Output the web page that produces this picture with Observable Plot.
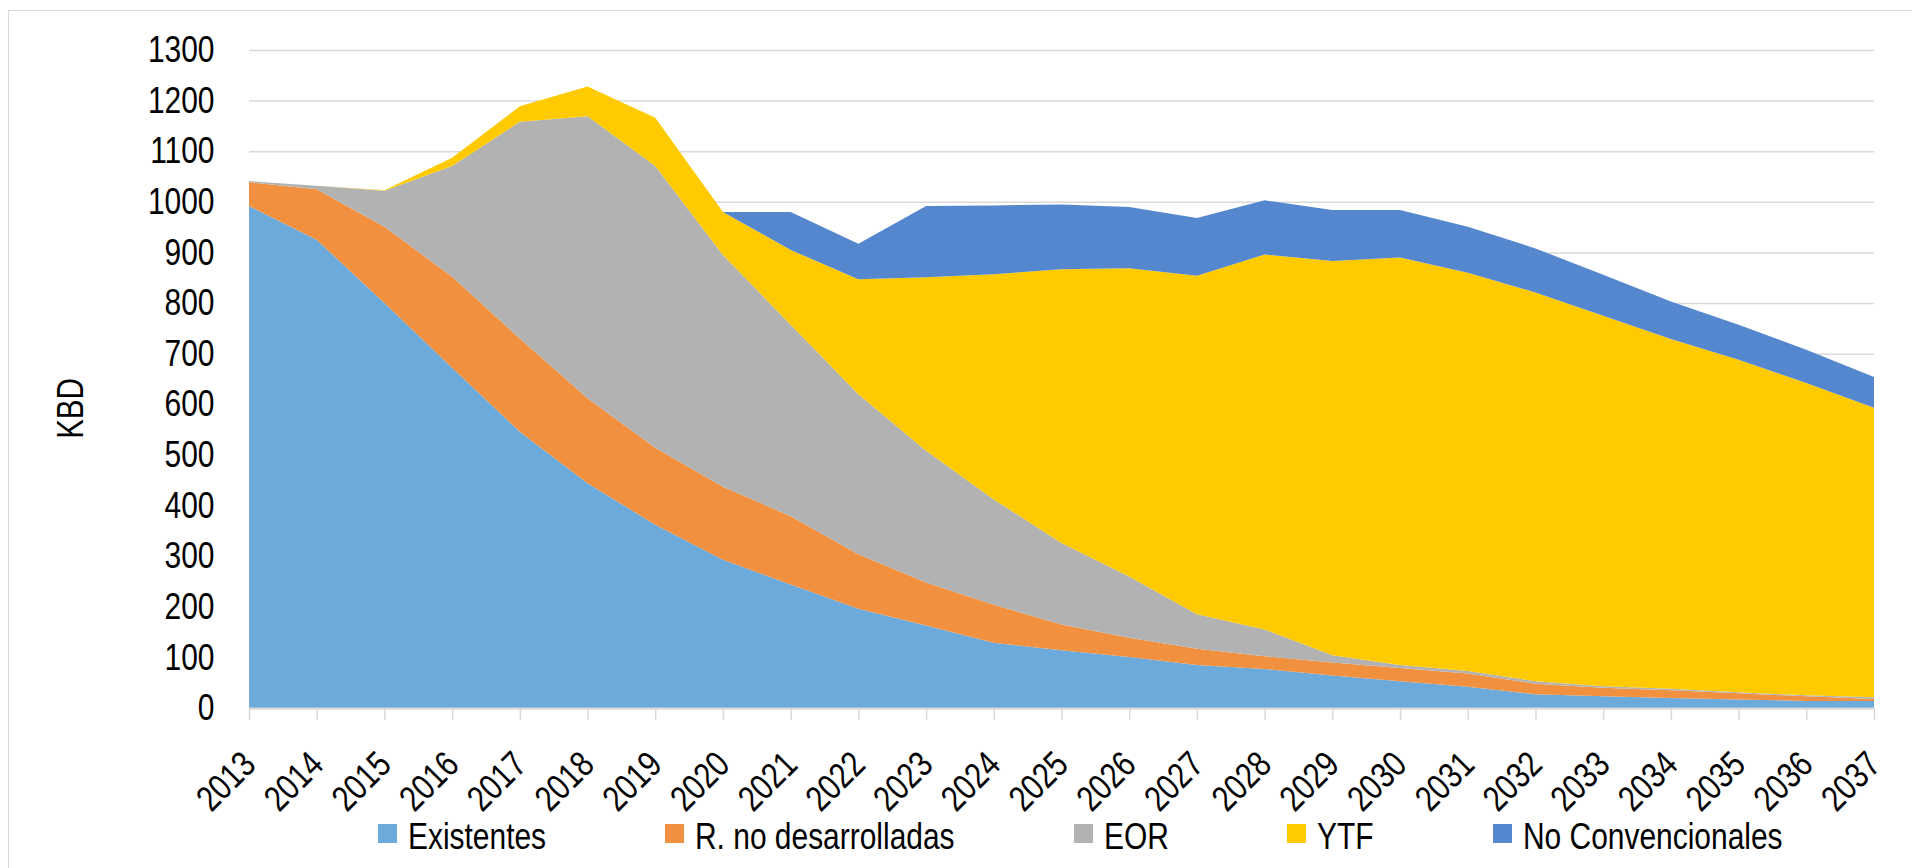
<!DOCTYPE html>
<html>
<head>
<meta charset="utf-8">
<script src="https://cdn.jsdelivr.net/npm/d3@7"></script>
<script src="https://cdn.jsdelivr.net/npm/@observablehq/plot@0.6"></script>
<style>
  html, body { margin: 0; padding: 0; background: #fff; }
  #wrap { position: relative; width: 1912px; height: 868px; overflow: hidden; }
  #frame { position: absolute; left: 8px; top: 10px; width: 1920px; height: 870px;
           border-top: 1.5px solid #d9d9d9; border-left: 1.5px solid #d9d9d9; box-sizing: border-box; pointer-events: none; }
  #legend { position: relative; height: 53px; }
  .item { position: absolute; white-space: nowrap; color: #000; }
  .sw { position: absolute; width: 19px; height: 19px; }
  .lab { position: absolute; line-height: 36px; display: inline-block; transform-origin: 0 0; }
</style>
</head>
<body>
<div id="wrap">
  <div id="chart"></div>
  <div id="legend"></div>
  <div id="frame"></div>
</div>
<script>
// ---- data ----
const years = [2013,2014,2015,2016,2017,2018,2019,2020,2021,2022,2023,2024,2025,2026,2027,2028,2029,2030,2031,2032,2033,2034,2035,2036,2037];
const seriesNames = ["Existentes", "R. no desarrolladas", "EOR", "YTF", "No Convencionales"];
const seriesColors = ["#6DAADC", "#F1913F", "#B2B2B2", "#FFCA00", "#5587CF"];
const existentes       = [992,925,800,672,546,444,362,293,244,196,163,129,114,101,85,77,64,53,42,27,23,20,17,14,14];
const rNoDesarrolladas = [47,100,151,180,184,168,152,144,135,108,85,75,51,38,32,25,26,26,26,21,17,15,12,9,4];
const eor              = [2,7,71,219,428,557,557,458,378,316,260,208,161,121,68,53,14,6,5,5,3,3,2,2,3];
const ytf              = [0,0,1,16,31,59,95,85,148,227,343,445,541,609,669,741,779,805,787,768,732,691,657,617,572];
const noConvencionales = [0,0,0,0,0,0,0,0,75,70,141,136,128,121,114,107,101,94,91,87,81,74,69,66,61];
const yTicks = [0,100,200,300,400,500,600,700,800,900,1000,1100,1200,1300];
const yLabel = "KBD";

const seriesValues = [existentes, rNoDesarrolladas, eor, ytf, noConvencionales];
const table = [];
seriesNames.forEach((s, i) => years.forEach((yr, j) => table.push({year: yr, series: s, value: seriesValues[i][j]})));

// ---- font handling (reference uses a narrow Arial-like face) ----
const ctx = document.createElement("canvas").getContext("2d");
function mw(font) { ctx.font = font; return ctx.measureText("Existentes 2013").width; }
const NARROW = mw('36px "Liberation Sans Narrow", monospace') !== mw('36px monospace');
const FONT = NARROW ? '"Liberation Sans Narrow", "Liberation Sans", Arial, sans-serif' : '"Liberation Sans", Arial, sans-serif';
const SQUEEZE = NARROW ? 1 : 0.82;

const chart = Plot.plot({
  width: 1912,
  height: 815,
  marginLeft: 249,
  marginRight: 38,
  marginTop: 50,
  marginBottom: 107,
  style: {fontFamily: FONT, fontSize: "36px", color: "#000", background: "transparent", overflow: "visible"},
  x: {domain: [2013, 2037]},
  y: {domain: [0, 1300]},
  color: {domain: seriesNames, range: seriesColors},
  marks: [
    Plot.gridY(yTicks, {stroke: "#d9d9d9", strokeOpacity: 1, strokeWidth: 1.5}),
    Plot.areaY(table, {x: "year", y: "value", z: "series", fill: "series", order: seriesNames, curve: "linear"}),
    Plot.ruleY([0], {stroke: "#d9d9d9", strokeWidth: 2}),
    Plot.axisY(yTicks, {tickSize: 0, tickPadding: 35, label: null, fill: "#000", fontSize: 36.5,
                        tickFormat: d => String(d)}),
    Plot.axisX(years, {tickSize: 12, tickPadding: 38, tickRotate: -45, stroke: "#d9d9d9", strokeWidth: 1.5, fill: "#000",
                       label: null, tickFormat: d => String(d), fontSize: 36}),
    Plot.text([yLabel], {frameAnchor: "left", rotate: -90, textAnchor: "middle", lineAnchor: "top",
                         dx: -192, dy: 29, fontSize: 36, fill: "#000"})
  ]
});
document.getElementById("chart").appendChild(chart);

if (!NARROW) {
  chart.querySelectorAll("text").forEach(t => {
    const w = t.getComputedTextLength();
    if (w > 0) {
      t.setAttribute("textLength", (w * SQUEEZE).toFixed(2));
      t.setAttribute("lengthAdjust", "spacingAndGlyphs");
    }
  });
}

// ---- legend ----
const legend = document.getElementById("legend");
const legendFont = 36.5;
let left = 378;
seriesNames.forEach((s, i) => {
  const item = document.createElement("div");
  item.className = "item";
  item.style.left = left + "px";
  item.style.top = "0px";
  const sw = document.createElement("div");
  sw.className = "sw";
  sw.style.background = seriesColors[i];
  sw.style.left = "0px";
  sw.style.top = "9px";
  const lab = document.createElement("span");
  lab.className = "lab";
  lab.textContent = s;
  lab.style.fontFamily = FONT;
  lab.style.fontSize = legendFont + "px";
  lab.style.left = "30px";
  lab.style.top = "4px";
  lab.style.transform = `scaleX(${SQUEEZE})`;
  ctx.font = `${legendFont}px ${FONT}`;
  const w = ctx.measureText(s).width * SQUEEZE;
  item.appendChild(sw);
  item.appendChild(lab);
  legend.appendChild(item);
  left += 30 + w + 119;
});
</script>
</body>
</html>
